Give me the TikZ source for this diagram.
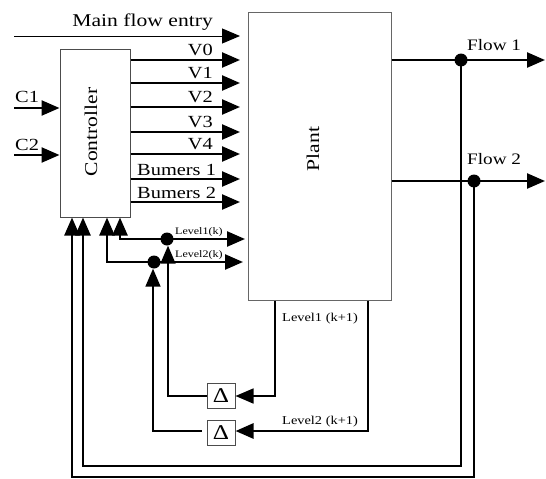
\documentclass[tikz,border=0pt]{standalone}
\usepackage{fontspec}
\setmainfont{Liberation Serif}[FakeStretch=1.2]
\usetikzlibrary{arrows.meta}
\begin{document}
\begin{tikzpicture}[x=1pt,y=-1pt,
  tip/.style={-{Triangle[length=18pt,width=15pt]}},
  thickln/.style={line width=2.4pt},
  midln/.style={line width=1.6pt},
  thinln/.style={line width=1pt},
  blk/.style={draw=black!70, line width=1pt, inner sep=0pt},
  big/.style={font=\fontsize{17}{20}\selectfont, inner sep=0pt},
  bigger/.style={font=\fontsize{18}{21}\selectfont, inner sep=0pt},
  small/.style={font=\fontsize{10}{12}\selectfont, inner sep=0pt},
  med/.style={font=\fontsize{12}{14}\selectfont, inner sep=0pt},
  delta/.style={blk, minimum width=28pt, minimum height=25pt, font=\fontsize{21}{24}\selectfont},
  dot/.style={circle, fill=black, inner sep=0pt, minimum size=13pt}]
\useasboundingbox (0,0) rectangle (546,479);

% boxes
\node[blk, minimum width=70pt, minimum height=168pt] (ctrl) at (95,133) {};
\node[bigger, rotate=90] (ctrltxt) at (91,132) {Controller};
\node[blk, draw=black!60, minimum width=143pt, minimum height=288pt] (plant) at (319.5,156) {};
\node[bigger, rotate=90] (planttxt) at (313,149) {Plant};

% main flow entry
\coordinate (me0) at (14,36);
\coordinate (me1) at (240,36);
\draw[thinln,tip] (me0) -- (me1);
\node[bigger, anchor=base east] (mflab) at (213,27) {Main flow entry};

% controller outputs
\foreach \y/\t [count=\i] in {60/V0,83/V1,107/V2,132/V3,154/V4} {
  \coordinate (vend\i) at (240,\y);
  \draw[thickln,tip] (ctrl.east |- vend\i) -- (vend\i);
  \node[big, anchor=base east] (vlab\i) at (213,\y-5) {\t};
}
\foreach \y/\t [count=\i] in {179/Bumers 1,202/Bumers 2} {
  \coordinate (bend\i) at (240,\y);
  \draw[thickln,tip] (ctrl.east |- bend\i) -- (bend\i);
  \node[big, anchor=base west] (blab\i) at (137,\y-4) {\t};
}

% inputs C1, C2
\coordinate (c1s) at (14,108);
\coordinate (c2s) at (14,155);
\draw[thickln,tip] (c1s) -- (c1s -| ctrl.west);
\draw[thickln,tip] (c2s) -- (c2s -| ctrl.west);
\node[big, anchor=base west] (c1lab) at (15,102) {C1};
\node[big, anchor=base west] (c2lab) at (15,150) {C2};

% Level1(k), Level2(k)
\node[dot] (d1) at (167,239) {};
\node[dot] (d2) at (154,262) {};
\coordinate (l1a) at (120,239);
\coordinate (l1e) at (245,239);
\coordinate (l2a) at (107,262);
\coordinate (l2e) at (243,262);
\draw[thickln,tip] (d1.center) -- (l1e);
\draw[thickln,tip] (d1.center) -- (l1a) -- (l1a |- ctrl.south);
\draw[thickln,tip] (d2.center) -- (l2e);
\draw[thickln,tip] (d2.center) -- (l2a) -- (l2a |- ctrl.south);
\node[small, anchor=base west] (l1lab) at (175,234) {Level1(k)};
\node[small, anchor=base west] (l2lab) at (175,257) {Level2(k)};

% delay boxes
\node[delta] (del1) at (221,396) {Δ};
\node[delta] (del2) at (221,433) {Δ};

% Level(k+1) from plant
\coordinate (k1b) at (275,396);
\coordinate (k2b) at (368,431);
\draw[midln,tip] (plant.south -| k1b) -- (k1b) -- (del1.east);
\draw[line width=2.8pt,tip] (plant.south -| k2b) -- (k2b) -- (del2.east |- k2b);
\node[med, anchor=base west] (k1lab) at (282,321) {Level1 (k+1)};
\node[med, anchor=base west] (k2lab) at (282,424) {Level2 (k+1)};

% delayed feedback to dots
\coordinate (k1c) at (168,396);
\coordinate (k2c) at (153,431);
\draw[midln,tip] (del1.west) -- (k1c) -- (k1c |- d1.south);
\draw[midln,tip,shorten <=5pt] (del2.west |- k2c) -- (k2c) -- (k2c |- d2.south);

% flows
\coordinate (f1e) at (545,60);
\coordinate (f2e) at (545,181);
\draw[thickln,tip] (plant.east |- f1e) -- (f1e);
\draw[thickln,tip] (plant.east |- f2e) -- (f2e);
\node[dot] (f1) at (461,60) {};
\node[dot] (f2) at (474,181) {};
\node[big, font=\fontsize{16}{19}\selectfont, anchor=base west] (f1lab) at (467,50) {Flow 1};
\node[big, font=\fontsize{16}{19}\selectfont, anchor=base west] (f2lab) at (467,164) {Flow 2};

% flow feedback to controller
\coordinate (f1b) at (461,466);
\coordinate (f1c) at (83,466);
\coordinate (f2b) at (474,477);
\coordinate (f2c) at (72,477);
\draw[thickln,tip] (f1.center) -- (f1b) -- (f1c) -- (f1c |- ctrl.south);
\draw[thickln,tip] (f2.center) -- (f2b) -- (f2c) -- (f2c |- ctrl.south);
\end{tikzpicture}
\end{document}
